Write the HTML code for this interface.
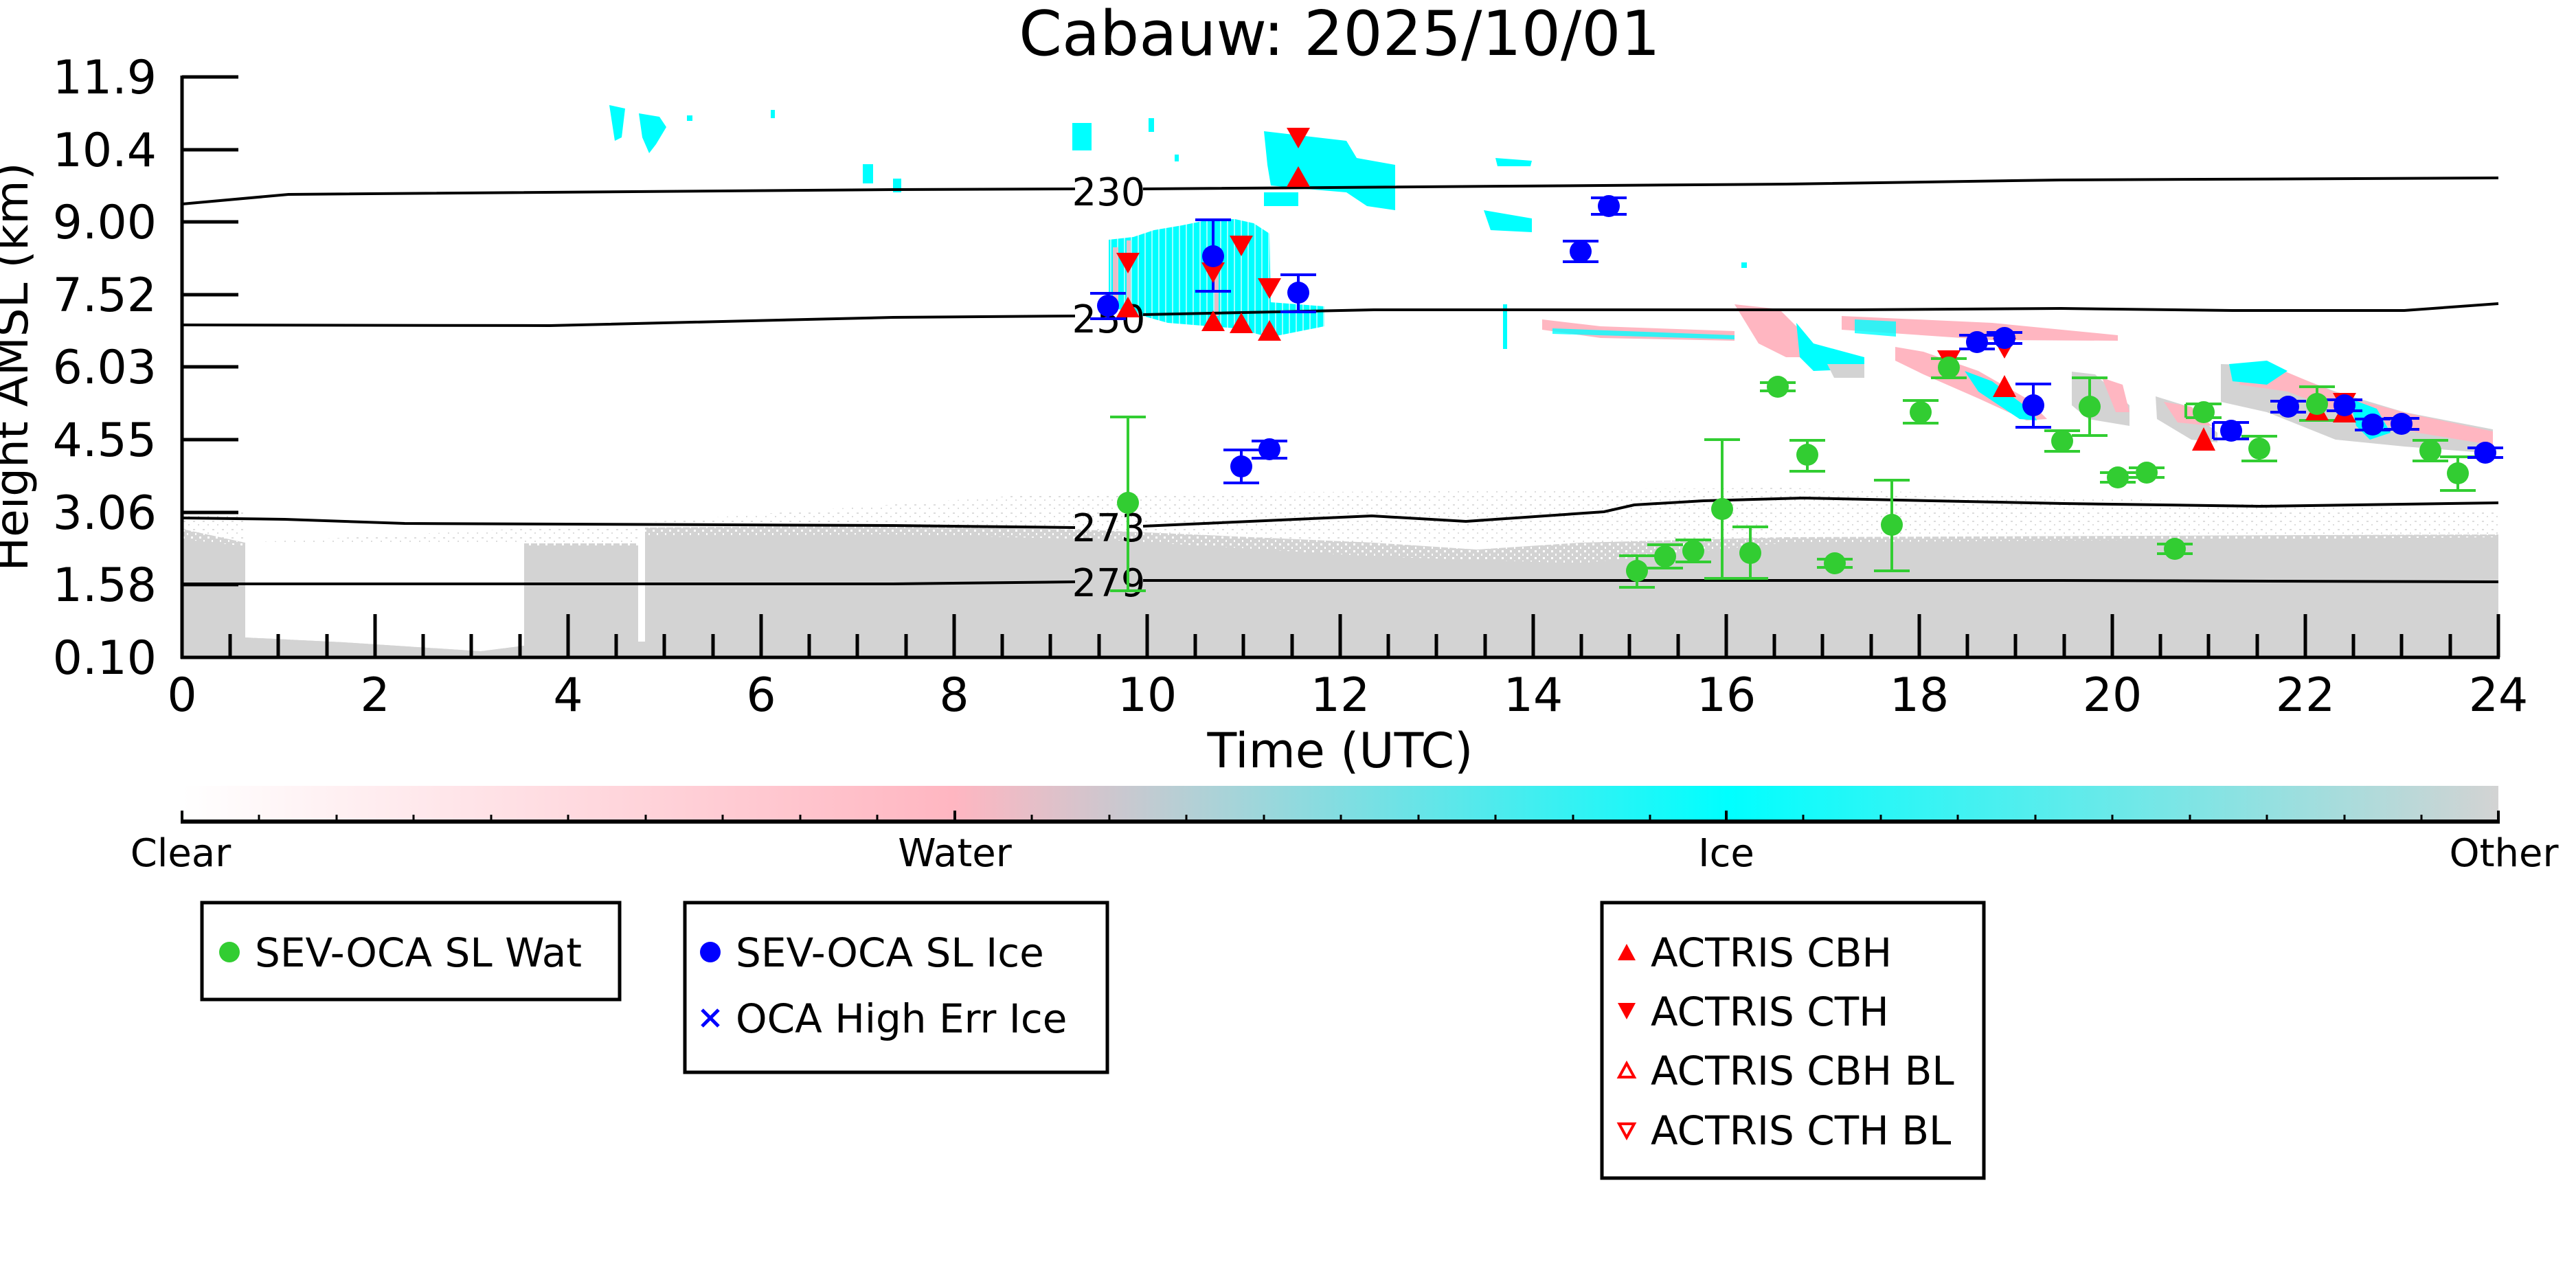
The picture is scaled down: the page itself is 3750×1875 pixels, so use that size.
<!DOCTYPE html>
<html><head><meta charset="utf-8"><style>html,body{margin:0;padding:0;background:#fff}svg{display:block}</style></head>
<body>
<svg width="3750" height="1875" viewBox="0 0 3750 1875" xmlns="http://www.w3.org/2000/svg" font-family="'DejaVu Sans','Liberation Sans',sans-serif">
<defs>
<linearGradient id="cb" x1="0" x2="1" y1="0" y2="0">
<stop offset="0" stop-color="#ffffff"/><stop offset="0.333" stop-color="#ffb6c1"/>
<stop offset="0.45" stop-color="#a9d3d8"/><stop offset="0.667" stop-color="#00ffff"/>
<stop offset="1" stop-color="#d3d3d3"/></linearGradient>
<pattern id="noise" width="12" height="10" patternUnits="userSpaceOnUse">
<rect width="12" height="10" fill="#d3d3d3"/><rect x="2" y="1" width="3" height="3" fill="#fff"/><rect x="8" y="6" width="2" height="3" fill="#fff"/></pattern>
<pattern id="noise2" width="14" height="12" patternUnits="userSpaceOnUse">
<rect width="14" height="12" fill="#fff"/><rect x="1" y="2" width="3" height="2" fill="#dcdcdc"/><rect x="8" y="7" width="2" height="2" fill="#dcdcdc"/></pattern>
<pattern id="cystripe" width="10" height="10" patternUnits="userSpaceOnUse">
<rect width="10" height="10" fill="#00ffff"/><rect x="6" width="2" height="10" fill="#9ff"/></pattern>
</defs>

<text x="1950" y="80" font-size="90" text-anchor="middle">Cabauw: 2025/10/01</text>

<!-- gray background -->
<polygon fill="url(#noise2)" points="265,745 357,745 357,790 945,760 1500,720 2600,710 3637,745 3637,790 265,790"/>
<polygon fill="url(#noise)" points="265,770 357,790 357,928 500,935 700,948 763,940 763,791 929,791 929,768 1300,765 1600,772 2000,790 2150,800 2300,790 2600,782 3637,778 3637,957 265,957"/>
<polygon fill="#d3d3d3" points="265,785 357,795 357,928 500,935 700,948 763,940 763,795 929,795 929,780 1300,778 1600,785 2000,810 2300,820 2600,790 3637,782 3637,957 265,957"/>
<rect x="929" y="760" width="10" height="174" fill="#fff"/>

<g fill="#00ffff">
<polygon points="887,153 910,158 905,200 895,205"/><polygon points="930,165 960,170 970,185 955,210 945,223 935,200"/>
<rect x="1000" y="168" width="8" height="8"/><rect x="1122" y="160" width="6" height="12"/>
<rect x="1256" y="239" width="15" height="28"/><rect x="1300" y="260" width="12" height="20"/>
<rect x="1561" y="179" width="28" height="40"/><rect x="1672" y="172" width="8" height="20"/><rect x="1710" y="225" width="6" height="10"/>
<polygon points="1840,191 1960,205 1975,230 2031,240 2031,306 1990,300 1960,280 1900,275 1850,270 1845,240"/>
<rect x="1840" y="280" width="50" height="20"/>
<polygon points="2177,230 2230,234 2228,242 2180,242"/><polygon points="2160,306 2230,318 2230,338 2170,335"/>
<rect x="2535" y="382" width="8" height="8"/>
<polygon fill="url(#cystripe)" points="1614,349 1650,345 1680,335 1721,328 1760,320 1798,319 1825,325 1848,340 1850,440 1928,446 1928,475 1848,491 1800,478 1700,470 1614,446"/>
</g>
<g fill="#ffb6c1" opacity="0.9">
<rect x="1620" y="360" width="8" height="80"/><rect x="1640" y="350" width="6" height="90"/><rect x="1768" y="380" width="6" height="80"/>
</g>

<g>
<polygon fill="#ffb6c1" points="2245,465 2330,475 2525,482 2525,496 2330,492 2245,480"/>
<polygon fill="#00ffff" opacity="0.8" points="2260,478 2525,488 2525,494 2260,486"/>
<rect x="2188" y="443" width="6" height="65" fill="#00ffff"/>
<polygon fill="#ffb6c1" points="2525,443 2590,450 2620,480 2640,520 2600,520 2560,500"/>
<polygon fill="#00ffff" points="2615,470 2640,500 2714,520 2714,537 2640,540 2620,520"/>
<polygon fill="#d3d3d3" points="2660,530 2714,530 2714,550 2670,550"/>
<polygon fill="#ffb6c1" points="2681,460 2900,470 3083,488 3083,496 2900,495 2681,480"/>
<polygon fill="#00ffff" opacity="0.8" points="2700,465 2760,468 2760,490 2700,485"/>
<polygon fill="#ffb6c1" points="2759,505 2800,512 2880,540 2950,580 2980,610 2950,612 2880,580 2800,545 2759,525"/>
<polygon fill="#00ffff" points="2860,540 2900,555 2960,600 2965,612 2940,610 2880,570"/>
<polygon fill="#d3d3d3" points="3016,541 3050,545 3100,590 3100,620 3040,610 3016,590"/>
<polygon fill="#ffb6c1" points="3060,550 3090,560 3100,600 3080,600"/>
<polygon fill="#d3d3d3" points="3138,577 3180,590 3228,630 3228,644 3190,640 3140,610"/>
<polygon fill="#ffb6c1" points="3150,585 3190,592 3220,620 3170,615"/>
<polygon fill="#d3d3d3" points="3233,530 3300,532 3400,570 3500,600 3629,625 3629,660 3500,650 3400,640 3300,600 3233,585"/>
<polygon fill="#ffb6c1" points="3260,532 3320,538 3420,580 3520,605 3629,628 3629,648 3520,630 3420,605 3330,570 3260,560"/>
<polygon fill="#00ffff" points="3245,530 3300,525 3330,540 3300,560 3250,555"/>
<polygon fill="#00ffff" points="3420,580 3460,595 3480,630 3450,640 3430,620"/>
</g>

<g fill="none" stroke="#000" stroke-width="4">
<polyline points="265,297 420,283 1300,276 1565,275"/><polyline points="1664,275 2600,268 3000,262 3637,259"/>
<polyline points="265,473 800,474 1300,462 1565,460"/><polyline points="1664,458 2000,451 2700,451 3000,449 3250,452 3500,452 3637,442"/>
<polyline points="265,754 415,756 589,762 1300,765 1565,768"/><polyline points="1664,766 1997,751 2134,759 2335,745 2379,735 2480,729 2625,725 3004,733 3290,737 3637,732"/>
<polyline points="265,850 1300,850 1565,847"/><polyline points="1664,845 2600,845 3000,845 3637,847"/>
</g>
<g font-size="56" text-anchor="middle">
<text x="1614" y="299">230</text><text x="1614" y="484">250</text>
<text x="1614" y="788">273</text><text x="1614" y="868">279</text>
</g>

<g stroke-width="4" fill="none">
<g stroke="#32cd32">
<path d="M1642,607V860M1616,607h52M1616,860h52"/>
<path d="M2383,809V855M2357,809h52M2357,855h52"/>
<path d="M2424,793V827M2398,793h52M2398,827h52"/>
<path d="M2465,786V818M2439,786h52M2439,818h52"/>
<path d="M2507,640V842M2481,640h52M2481,842h52"/>
<path d="M2548,767V842M2522,767h52M2522,842h52"/>
<path d="M2562,557h52M2562,569h52"/>
<path d="M2796,583V616M2770,583h52M2770,616h52"/>
<path d="M2837,522V550M2811,522h52M2811,550h52"/>
<path d="M3042,550V634M3016,550h52M3016,634h52"/>
<path d="M3002,627V657M2976,627h52M2976,657h52"/>
<path d="M3057,688h52M3057,702h52M3099,681h52M3099,695h52"/>
<path d="M3140,792h52M3140,806h52"/>
<path d="M3182,588V608M3182,588h52M3182,608h52"/>
<path d="M3289,635V671M3263,635h52M3263,671h52"/>
<path d="M3373,563V612M3347,563h52M3347,612h52"/>
<path d="M3538,641V671M3512,641h52M3512,671h52"/>
<path d="M3578,665V714M3552,665h52M3552,714h52"/>
<path d="M2645,814h52M2645,826h52"/>
<path d="M2754,699V831M2728,699h52M2728,831h52"/>
<path d="M2631,641V686M2605,641h52M2605,686h52"/>
</g>
<g stroke="#0000ff">
<path d="M1613,427V464M1587,427h52M1587,464h52"/>
<path d="M1766,320V424M1740,320h52M1740,424h52"/>
<path d="M1890,400V454M1864,400h52M1864,454h52"/>
<path d="M1807,655V703M1781,655h52M1781,703h52"/>
<path d="M1848,642V667M1822,642h52M1822,667h52"/>
<path d="M2301,351V381M2275,351h52M2275,381h52"/>
<path d="M2342,288V312M2316,288h52M2316,312h52"/>
<path d="M2852,488h52M2852,508h52M2892,484h52M2892,500h52"/>
<path d="M2960,559V622M2934,559h52M2934,622h52"/>
<path d="M3222,615V639M3222,615h52M3222,639h52"/>
<path d="M3305,584h52M3305,600h52M3387,582h52M3387,598h52"/>
<path d="M3428,610h52M3428,626h52M3470,609h52M3470,625h52"/>
<path d="M3592,652h52M3592,666h52"/>
</g>
</g>
<g fill="#ff0000">
<path d="M1625,368h34l-17,30z"/><path d="M1790,343h34l-17,30z"/><path d="M1831,405h34l-17,30z"/><path d="M1873,186h34l-17,30z"/>
<path d="M1749,382h34l-17,30z"/><path d="M2820,510h34l-17,30z"/><path d="M2901,492h34l-17,30z"/><path d="M3396,572h34l-17,30z"/>
<path d="M1625,462h34l-17,-30z"/><path d="M1749,482h34l-17,-30z"/><path d="M1790,485h34l-17,-30z"/><path d="M1831,496h34l-17,-30z"/><path d="M1873,272h34l-17,-30z"/>
<path d="M2901,578h34l-17,-32z"/><path d="M3191,656h34l-17,-34z"/><path d="M3356,612h34l-17,-30z"/><path d="M3396,615h34l-17,-30z"/>
</g>
<g fill="#32cd32">
<circle cx="1642" cy="732" r="16"/><circle cx="2383" cy="831" r="16"/><circle cx="2424" cy="810" r="16"/><circle cx="2465" cy="802" r="16"/>
<circle cx="2507" cy="741" r="16"/><circle cx="2548" cy="805" r="16"/><circle cx="2588" cy="563" r="16"/><circle cx="2796" cy="600" r="16"/>
<circle cx="2837" cy="535" r="16"/><circle cx="3042" cy="592" r="16"/><circle cx="3002" cy="642" r="16"/><circle cx="3083" cy="695" r="16"/>
<circle cx="3125" cy="688" r="16"/><circle cx="3166" cy="799" r="16"/><circle cx="3208" cy="600" r="16"/><circle cx="3289" cy="653" r="16"/>
<circle cx="3373" cy="588" r="16"/><circle cx="3538" cy="656" r="16"/><circle cx="3578" cy="689" r="16"/><circle cx="2671" cy="820" r="16"/>
<circle cx="2754" cy="764" r="16"/><circle cx="2631" cy="662" r="16"/>
</g>
<g fill="#0000ff">
<circle cx="1613" cy="445" r="16"/><circle cx="1766" cy="373" r="16"/><circle cx="1890" cy="426" r="16"/><circle cx="1807" cy="679" r="16"/>
<circle cx="1848" cy="654" r="16"/><circle cx="2301" cy="366" r="16"/><circle cx="2342" cy="300" r="16"/><circle cx="2878" cy="498" r="16"/>
<circle cx="2918" cy="492" r="16"/><circle cx="2960" cy="590" r="16"/><circle cx="3248" cy="627" r="16"/><circle cx="3331" cy="592" r="16"/>
<circle cx="3413" cy="590" r="16"/><circle cx="3454" cy="618" r="16"/><circle cx="3496" cy="617" r="16"/><circle cx="3618" cy="659" r="16"/>
</g>

<g stroke="#000" stroke-width="5" fill="none">
<path d="M265,110V959M263,957H3639"/>
<path d="M265,112h82M265,218h82M265,323h82M265,429h82M265,534h82M265,640h82M265,746h82M265,851h82"/>
<path d="M265,957v-63M546,957v-63M827,957v-63M1108,957v-63M1389,957v-63M1670,957v-63M1951,957v-63M2232,957v-63M2513,957v-63M2794,957v-63M3075,957v-63M3356,957v-63M3637,957v-63"/>
<path d="M335,957v-34M405,957v-34M476,957v-34M616,957v-34M686,957v-34M757,957v-34M897,957v-34M967,957v-34M1038,957v-34M1178,957v-34M1248,957v-34M1319,957v-34M1459,957v-34M1529,957v-34M1600,957v-34M1740,957v-34M1810,957v-34M1881,957v-34M2021,957v-34M2091,957v-34M2162,957v-34M2302,957v-34M2372,957v-34M2443,957v-34M2583,957v-34M2653,957v-34M2724,957v-34M2864,957v-34M2934,957v-34M3005,957v-34M3145,957v-34M3215,957v-34M3286,957v-34M3426,957v-34M3496,957v-34M3567,957v-34"/>
</g>
<g font-size="68" text-anchor="end">
<text x="228" y="136">11.9</text><text x="228" y="242">10.4</text><text x="228" y="347">9.00</text><text x="228" y="453">7.52</text>
<text x="228" y="558">6.03</text><text x="228" y="664">4.55</text><text x="228" y="770">3.06</text><text x="228" y="875">1.58</text><text x="228" y="981">0.10</text>
</g>
<g font-size="68" text-anchor="middle">
<text x="265" y="1035">0</text><text x="546" y="1035">2</text><text x="827" y="1035">4</text><text x="1108" y="1035">6</text><text x="1389" y="1035">8</text>
<text x="1670" y="1035">10</text><text x="1951" y="1035">12</text><text x="2232" y="1035">14</text><text x="2513" y="1035">16</text><text x="2794" y="1035">18</text>
<text x="3075" y="1035">20</text><text x="3356" y="1035">22</text><text x="3637" y="1035">24</text>
<text x="1951" y="1117" font-size="70">Time (UTC)</text>
<text transform="translate(40,534) rotate(-90)" font-size="66">Height AMSL (km)</text>
</g>

<rect x="265" y="1144" width="3372" height="50" fill="url(#cb)"/>
<g stroke="#000" fill="none">
<path d="M263,1196H3639" stroke-width="6"/>
<path d="M265,1180v16M1390,1180v16M2513,1180v16M3637,1180v16" stroke-width="4"/>
<path stroke-width="3" d="M377,1186v10M490,1186v10M602,1186v10M715,1186v10M827,1186v10M940,1186v10M1052,1186v10M1165,1186v10M1277,1186v10M1502,1186v10M1615,1186v10M1727,1186v10M1840,1186v10M1952,1186v10M2065,1186v10M2177,1186v10M2290,1186v10M2402,1186v10M2625,1186v10M2738,1186v10M2850,1186v10M2963,1186v10M3075,1186v10M3188,1186v10M3300,1186v10M3413,1186v10M3525,1186v10"/>
</g>
<g font-size="56" text-anchor="middle">
<text x="263" y="1261">Clear</text><text x="1390" y="1261">Water</text><text x="2513" y="1261">Ice</text><text x="3645" y="1261">Other</text>
</g>

<g fill="#fff" stroke="#000" stroke-width="5">
<rect x="294" y="1314" width="608" height="141"/>
<rect x="997" y="1314" width="615" height="247"/>
<rect x="2332" y="1314" width="556" height="401"/>
</g>
<g font-size="58">
<circle cx="334" cy="1386" r="15" fill="#32cd32"/><text x="371" y="1407">SEV-OCA SL Wat</text>
<circle cx="1034" cy="1386" r="15" fill="#0000ff"/><text x="1071" y="1407">SEV-OCA SL Ice</text>
<path d="M1022,1470l24,24M1046,1470l-24,24" stroke="#0000ff" stroke-width="5"/><text x="1071" y="1503">OCA High Err Ice</text>
<path d="M2355,1398h26l-13,-24z" fill="#ff0000"/><text x="2403" y="1407">ACTRIS CBH</text>
<path d="M2355,1460h26l-13,24z" fill="#ff0000"/><text x="2403" y="1493">ACTRIS CTH</text>
<path d="M2357,1568h22l-11,-20z" fill="none" stroke="#ff0000" stroke-width="4"/><text x="2403" y="1579">ACTRIS CBH BL</text>
<path d="M2357,1636h22l-11,20z" fill="none" stroke="#ff0000" stroke-width="4"/><text x="2403" y="1666">ACTRIS CTH BL</text>
</g>
</svg>
</body></html>
